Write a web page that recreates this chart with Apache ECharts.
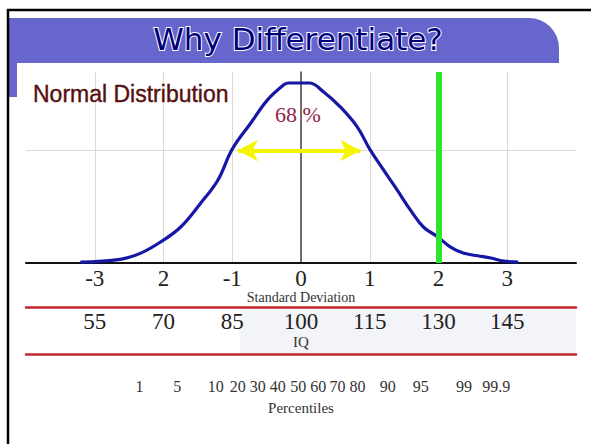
<!DOCTYPE html>
<html><head><meta charset="utf-8">
<script src="https://cdn.jsdelivr.net/npm/echarts@6/dist/echarts.min.js"></script>
<style>html,body{margin:0;padding:0;background:#fff}#c{width:591px;height:444px}</style>
</head><body><div id="c"></div>
<script>
// Curve (x in standard deviations, y = density)
const curveX = [-3.21,-2.63,-2.33,-2.04,-1.75,-1.46,-1.21,-1.00,-0.73,-0.49,-0.25,-0.18,0.12,0.33,0.57,0.82,1.00,1.20,1.40,1.59,1.78,1.99,2.17,2.36,2.57,2.76,2.95,3.16];
const curveY = [0.002,0.008,0.022,0.047,0.080,0.133,0.184,0.253,0.311,0.362,0.396,0.400,0.400,0.380,0.347,0.302,0.253,0.207,0.162,0.118,0.080,0.058,0.036,0.022,0.016,0.011,0.004,0.002];
// Axis labels
const sdTicks = [-3,-2,-1,0,1,2,3];
const sdLabels = ['-3','2','-1','0','1','2','3'];
const iqLabels = ['55','70','85','100','115','130','145'];
const pctPos = [-2.35,-1.80,-1.24,-0.92,-0.63,-0.34,-0.04,0.25,0.53,0.82,1.26,1.74,2.37,2.84];
const pctLabels = ['1','5','10','20','30','40','50','60','70','80','90','95','99','99.9'];
// Annotations
const markerSD = 2;
const arrowFrom = -0.92, arrowTo = 0.865, arrowLevel = 0.25;
const pctText = '68 %';
const pctTextAt = [0, 0.329];

const chart = echarts.init(document.getElementById('c'), null, {renderer:'svg'});
const serif = 'Liberation Serif';
function lookup(keys, labels){ return v => { const i = keys.findIndex(k => Math.abs(k - v) < 1e-6); return i < 0 ? '' : labels[i]; }; }
const redLine = {show:true, onZero:false, lineStyle:{color:'#c3262c', width:2.5}};

chart.setOption({
  animation:false,
  backgroundColor:'#fff',
  title:[
    {text:'Why Differentiate?', left:298, top:23, textAlign:'center', padding:0,
     textStyle:{fontFamily:'DejaVu Sans', fontSize:31, fontWeight:'normal', color:'#00007a', textBorderColor:'#fff', textBorderWidth:2}},
    {text:'Normal Distribution', left:33, top:82, padding:0,
     textStyle:{fontFamily:'Liberation Sans', fontSize:23, fontWeight:'normal', color:'#561010', textBorderColor:'#561010', textBorderWidth:0.4}}
  ],
  graphic:[
    {type:'rect', z:-5, shape:{x:9,y:18,width:550,height:45,r:[0,30,0,0]}, style:{fill:'#6666cc'}},
    {type:'rect', z:-5, shape:{x:9,y:63,width:8,height:34}, style:{fill:'#6666cc'}},
    {type:'rect', z:-5, shape:{x:240,y:308,width:336,height:45}, style:{fill:'#f3f4f8'}},
    {type:'line', shape:{x1:7,y1:10,x2:591,y2:10}, style:{stroke:'#000',lineWidth:2.5}},
    {type:'line', shape:{x1:8,y1:9,x2:8,y2:444}, style:{stroke:'#000',lineWidth:2.5}}
  ],
  grid:{left:26, right:15, top:72, height:191},
  xAxis:[
    {type:'value', min:-4, max:4, interval:1, position:'bottom',
     axisLine:{show:true, onZero:true, lineStyle:{color:'#111', width:2}},
     axisTick:{show:false},
     axisLabel:{margin:4, fontFamily:serif, fontSize:23, color:'#222', formatter:lookup(sdTicks, sdLabels)},
     splitLine:{show:true, showMinLine:false, showMaxLine:false, lineStyle:{color:'#d9d9d9', width:1}},
     name:'Standard Deviation', nameLocation:'middle', nameGap:25,
     nameTextStyle:{fontFamily:serif, fontSize:14, color:'#333'}},
    {type:'value', min:-4, max:4, interval:1, position:'bottom', offset:44,
     axisLine:redLine, axisTick:{show:false}, splitLine:{show:false},
     axisLabel:{margin:3, fontFamily:serif, fontSize:23, color:'#222', formatter:lookup(sdTicks, iqLabels)},
     name:'IQ', nameLocation:'middle', nameGap:27,
     nameTextStyle:{fontFamily:serif, fontSize:15, color:'#333'}},
    {type:'value', min:-4, max:4, position:'bottom', offset:91,
     axisLine:redLine, axisTick:{show:false}, splitLine:{show:false},
     axisLabel:{margin:24, fontFamily:serif, fontSize:16, color:'#333', customValues:pctPos, formatter:lookup(pctPos, pctLabels)},
     name:'Percentiles', nameLocation:'middle', nameGap:46,
     nameTextStyle:{fontFamily:serif, fontSize:15, color:'#333'}}
  ],
  yAxis:{type:'value', min:0, max:0.4244, interval:0.25,
    axisLine:{show:true, onZero:true, lineStyle:{color:'#444', width:1.5}},
    axisTick:{show:false}, axisLabel:{show:false},
    splitLine:{show:true, showMinLine:false, showMaxLine:false, lineStyle:{color:'#d9d9d9', width:1}}},
  series:[
    {type:'line', xAxisIndex:0, data:curveX.map((x,i)=>[x, curveY[i]]), smooth:0.4, showSymbol:false,
     lineStyle:{color:'#1717a6', width:3.2}, z:3,
     markLine:{silent:true, symbol:['none','none'], label:{show:false},
       lineStyle:{color:'#2ee62e', width:6, type:'solid'},
       data:[{xAxis:markerSD}]},
     markPoint:{silent:true, symbol:'circle', symbolSize:0,
       label:{show:true, position:'inside', offset:[-3,0], formatter:pctText, fontFamily:serif, fontSize:22, color:'#93234a'},
       data:[{coord:pctTextAt}]}
    },
    {type:'line', xAxisIndex:0, data:[], z:4,
     markLine:{silent:true, symbol:['arrow','arrow'], symbolSize:[16,20], label:{show:false},
       lineStyle:{color:'#f5f500', width:4, type:'solid'},
       data:[[{coord:[arrowFrom, arrowLevel]},{coord:[arrowTo, arrowLevel]}]]}}
  ]
});
</script></body></html>
